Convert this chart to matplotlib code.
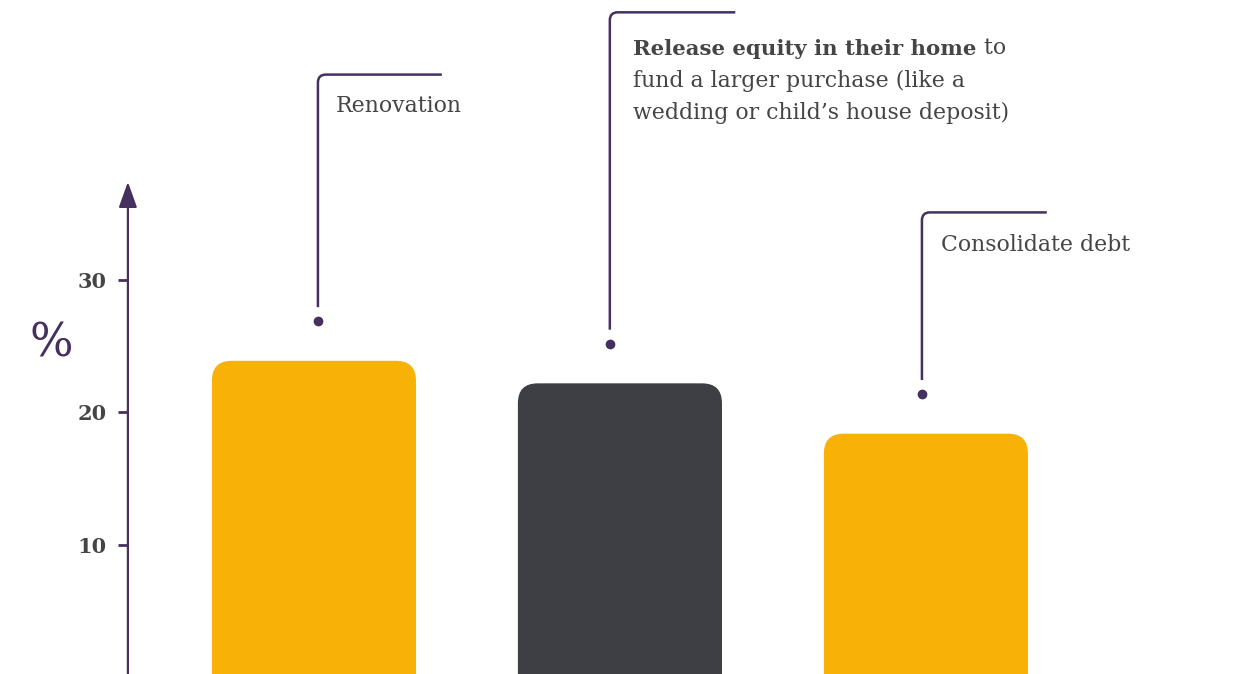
import matplotlib.pyplot as plt
from matplotlib.patches import FancyBboxPatch
from matplotlib.path import Path
from matplotlib.patches import PathPatch

# reasons for releasing equity, share of respondents (%)
reasons = ['Renovation', 'Release equity', 'Consolidate debt']
shares = [23.9, 22.2, 18.4]
bar_colors = ['#F8B106', '#3E3F44', '#F8B106']
yticks = [10, 20, 30]

PURPLE = '#45305F'
TEXT = '#454545'
SERIF = 'DejaVu Serif'

# leader layout per bar: dot x offset, height of the elbow, length of the top arm
dot_dx = [0.013, -0.033, -0.013]
elbow_y = [45.5, 50.2, 35.1]
arm_len = [0.405, 0.41, 0.408]
# label offset from the elbow, in points
label_off = [(13, -27), (17, -31), (14, -27.5)]

fig = plt.figure(figsize=(12.42, 6.74), dpi=100)
ax = fig.add_axes([0, 0, 1, 1])
ax.set_xlim(-1.026, 3.033)
ax.set_ylim(0.264, 51.13)

width = 0.667
for i, (v, c) in enumerate(zip(shares, bar_colors)):
    # rounded top corners; bottom sits below the visible area
    box = FancyBboxPatch((i - width / 2, -3), width, v + 3,
                         boxstyle='round,pad=0,rounding_size=0.065',
                         mutation_aspect=23.0, fc=c, ec='none', zorder=2)
    ax.add_patch(box)

# leader lines with a dot above each bar
for i, v in enumerate(shares):
    x = i + dot_dx[i]
    yd = v + 3.0
    ax.plot(x, yd, 'o', color=PURPLE, ms=6, zorder=3)
    top = elbow_y[i]
    rx, ry = 0.026, 0.6
    verts = [(x, yd + 1.05), (x, top - ry), (x, top), (x + rx, top),
             (x + arm_len[i], top)]
    codes = [Path.MOVETO, Path.LINETO, Path.CURVE3, Path.CURVE3, Path.LINETO]
    ax.add_patch(PathPatch(Path(verts, codes), fc='none', ec=PURPLE,
                           lw=1.8, zorder=3))

FS = 15.8
label_kw = dict(textcoords='offset points', fontsize=FS, color=TEXT,
                family=SERIF, ha='left', va='baseline')
ax.annotate('Renovation', (0 + dot_dx[0], elbow_y[0]), xytext=label_off[0], **label_kw)
ax.annotate('Consolidate debt', (2 + dot_dx[2], elbow_y[2]), xytext=label_off[2], **label_kw)

anchor = (1 + dot_dx[1], elbow_y[1])
ox, oy = label_off[1]
bold = ax.annotate('Release equity in their home', anchor, xytext=(ox, oy),
                   textcoords='offset points', fontsize=15.3, color=TEXT,
                   family=SERIF, ha='left', va='baseline', fontweight='bold')
ax.annotate(' to', xy=(1, 0), xycoords=bold, va='bottom', ha='left',
            fontsize=FS, color=TEXT, family=SERIF)
ax.annotate('fund a larger purchase (like a', anchor, xytext=(ox, oy - 23), **label_kw)
ax.annotate('wedding or child\u2019s house deposit)', anchor, xytext=(ox, oy - 46), **label_kw)

# y axis with arrow head
axis_x = -0.608
for side in ['top', 'right', 'bottom']:
    ax.spines[side].set_visible(False)
ax.spines['left'].set_position(('data', axis_x))
ax.spines['left'].set_visible(False)
ax.annotate('', xy=(axis_x, 37.4), xytext=(axis_x, 0.0),
            arrowprops=dict(arrowstyle='-|>,head_length=0.78,head_width=0.28',
                            mutation_scale=20, color=PURPLE, lw=1.6,
                            shrinkA=0, shrinkB=0))
ax.set_yticks(yticks)
ax.set_yticklabels([str(t) for t in yticks], fontsize=15, fontweight='bold',
                   color=TEXT, family=SERIF)
ax.tick_params(axis='y', length=7.2, width=2, color=PURPLE, pad=8)
ax.set_xticks([])
ax.text(-0.859, 25.2, '%', fontsize=33, color=PURPLE, family=SERIF,
        ha='center', va='center')

fig.savefig('out.png', dpi=100, facecolor='white')
